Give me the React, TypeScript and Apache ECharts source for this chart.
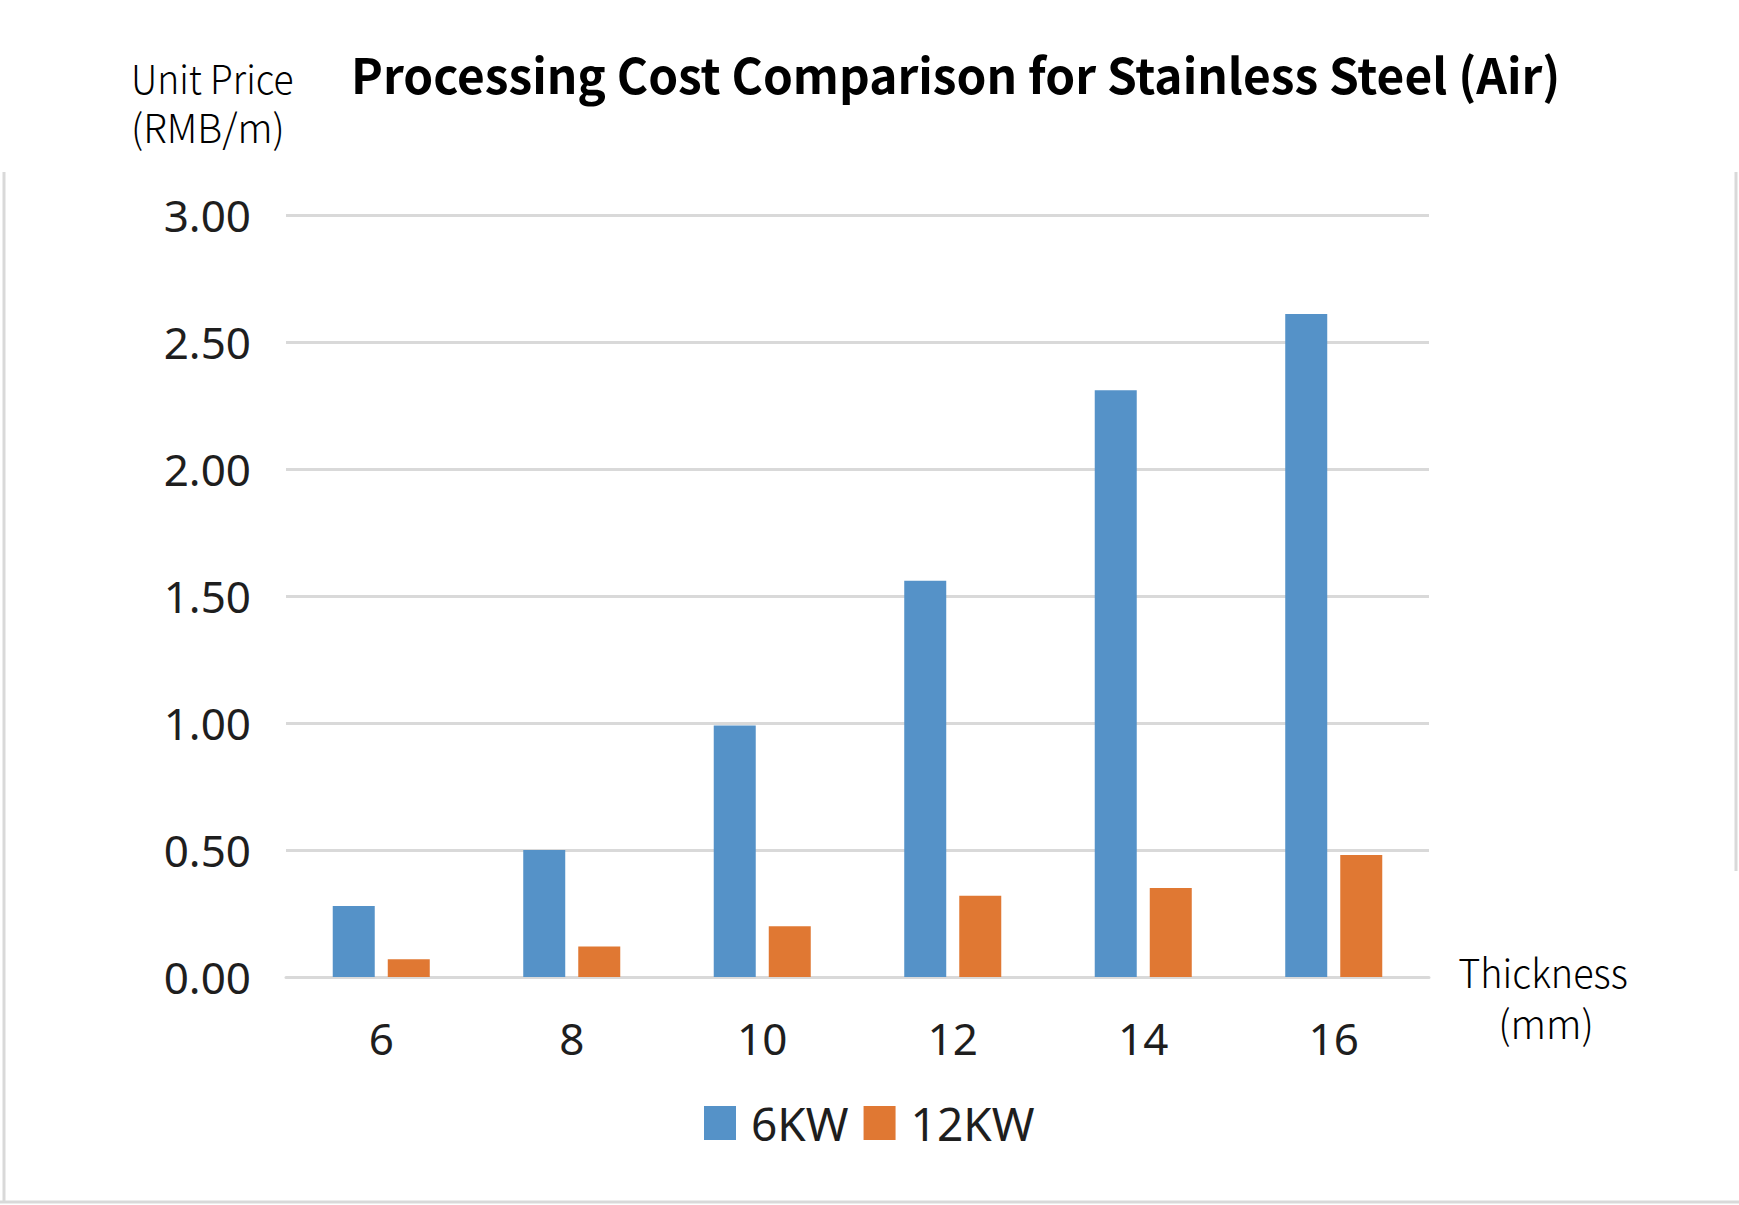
import React, { useEffect, useRef } from "react";
import * as echarts from "echarts";

const categories = ["6", "8", "10", "12", "14", "16"];
const series6KW = [0.28, 0.5, 0.99, 1.56, 2.31, 2.61];
const series12KW = [0.07, 0.12, 0.2, 0.32, 0.35, 0.48];
const seriesNames = ["6KW", "12KW"];
const yTicks = { min: 0, max: 3, interval: 0.5 };

const TICK_FONT = "'Noto Sans', 'DejaVu Sans', sans-serif";
const CJK_FONT = "'Noto Sans CJK SC', 'Noto Sans', sans-serif";
const LIGHT_FONT = "'Noto Sans CJK SC Light', 'Noto Sans CJK SC', 'Noto Sans', sans-serif";

export default function App() {
  const ref = useRef<HTMLDivElement>(null);
  useEffect(() => {
    document.body.style.margin = "0";
    const chart = echarts.init(ref.current!, null, { renderer: "svg" });
    const gray = "#d9d9d9";
    chart.setOption({
      animation: false,
      backgroundColor: "#ffffff",
      color: ["#5592c8", "#e07833"],
      grid: { left: 286, right: 310, top: 215, bottom: 228 },
      legend: {
        data: seriesNames,
        left: 704,
        top: 1100,
        padding: 0,
        itemWidth: 32,
        itemHeight: 34,
        itemGap: 15,
        icon: "rect",
        textStyle: { fontFamily: TICK_FONT, fontSize: 46, color: "#1e1e1e", padding: [0, 0, 0, 10] },
      },
      xAxis: {
        type: "category",
        data: categories,
        axisLine: { show: true, lineStyle: { color: gray, width: 3 } },
        axisTick: { show: false },
        axisLabel: { margin: 39, fontFamily: TICK_FONT, fontSize: 44, color: "#1e1e1e" },
      },
      yAxis: {
        type: "value",
        min: yTicks.min,
        max: yTicks.max,
        interval: yTicks.interval,
        axisLine: { show: false },
        axisTick: { show: false },
        splitLine: { lineStyle: { color: gray, width: 3 } },
        axisLabel: {
          margin: 35,
          fontFamily: TICK_FONT,
          fontSize: 44,
          color: "#1e1e1e",
          formatter: (v: number) => v.toFixed(2),
        },
      },
      series: [
        { name: seriesNames[0], type: "bar", data: series6KW, barWidth: 42, barGap: "31%" },
        { name: seriesNames[1], type: "bar", data: series12KW, barWidth: 42, barGap: "31%" },
      ],
      graphic: [
        {
          type: "text",
          x: 351,
          y: 48,
          scaleX: 0.977,
          style: {
            text: "Processing Cost Comparison for Stainless Steel (Air)",
            font: `bold 49px ${CJK_FONT}`,
            fill: "#000",
            verticalAlign: "top",
          },
        },
        {
          type: "text",
          x: 131,
          y: 76,
          scaleX: 0.93,
          style: {
            text: "Unit Price",
            font: `300 40px ${LIGHT_FONT}`,
            fill: "#000",
            verticalAlign: "middle",
          },
        },
        {
          type: "text",
          x: 131,
          y: 125,
          scaleX: 0.97,
          style: {
            text: "(RMB/m)",
            font: `300 40px ${LIGHT_FONT}`,
            fill: "#000",
            verticalAlign: "middle",
          },
        },
        {
          type: "text",
          x: 1543,
          y: 971,
          scaleX: 0.945,
          style: {
            text: "Thickness",
            font: `300 40px ${LIGHT_FONT}`,
            fill: "#000",
            align: "center",
            verticalAlign: "middle",
          },
        },
        {
          type: "text",
          x: 1546,
          y: 1021,
          scaleX: 0.98,
          style: {
            text: "(mm)",
            font: `300 40px ${LIGHT_FONT}`,
            fill: "#000",
            align: "center",
            verticalAlign: "middle",
          },
        },
        { type: "line", shape: { x1: 4, y1: 172, x2: 4, y2: 1203 }, style: { stroke: gray, lineWidth: 3 } },
        { type: "line", shape: { x1: 0, y1: 1202, x2: 1739, y2: 1202 }, style: { stroke: gray, lineWidth: 3 } },
        { type: "line", shape: { x1: 1736, y1: 172, x2: 1736, y2: 871 }, style: { stroke: gray, lineWidth: 3 } },
      ],
    });
    return () => chart.dispose();
  }, []);
  return (
    <div
      ref={ref}
      style={{ position: "absolute", left: 0, top: 0, width: 1739, height: 1205 }}
    />
  );
}
